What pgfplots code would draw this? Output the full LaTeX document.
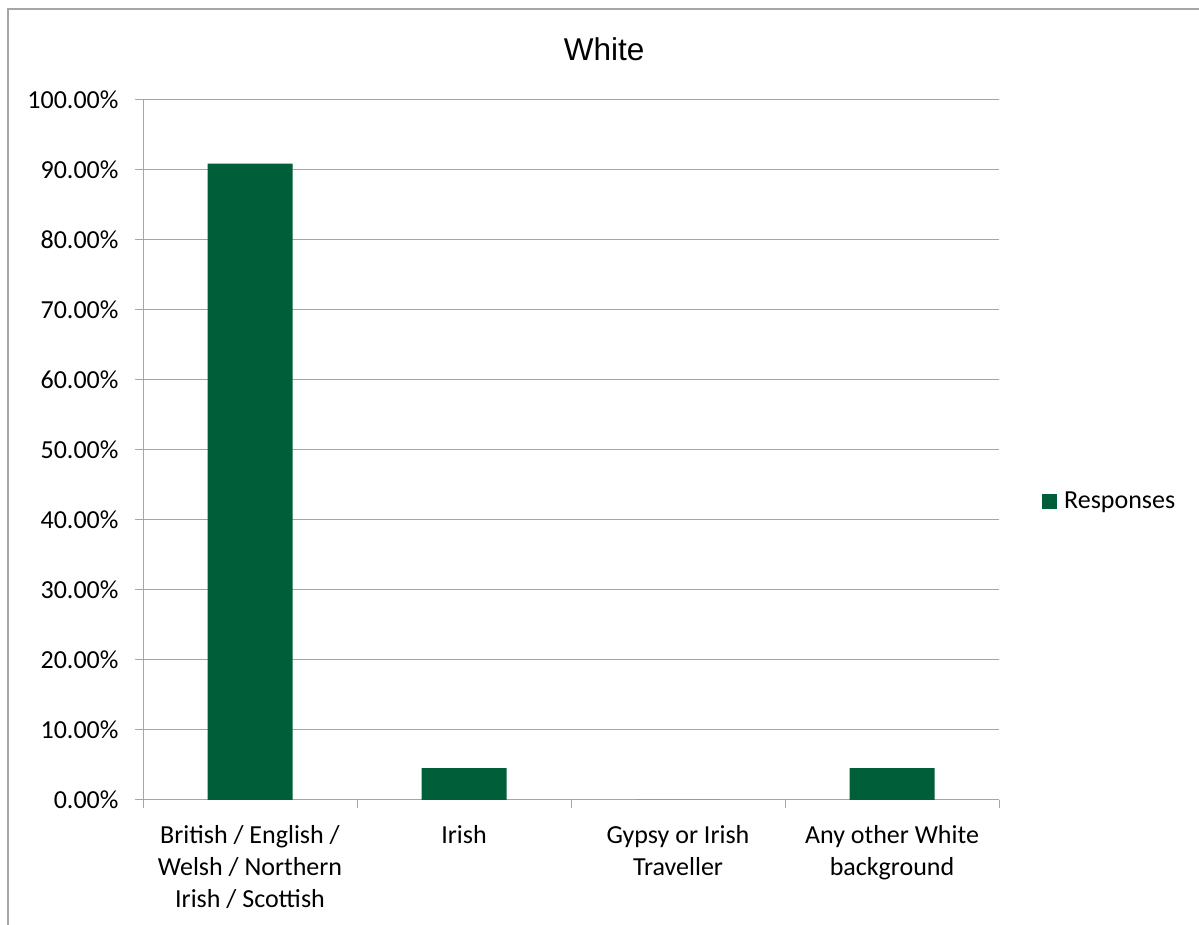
\documentclass[border=0pt]{standalone}
\usepackage{fontspec}
\setmainfont{Carlito}
\newfontfamily\titlefont{Liberation Sans}
\usepackage{pgfplots}
\pgfplotsset{compat=1.18}
\definecolor{bargreen}{RGB}{0,94,56}
\definecolor{axisgray}{RGB}{166,166,166}
\begin{document}
\begin{tikzpicture}
\useasboundingbox (0pt,0pt) rectangle (1199pt,925pt);
\draw[axisgray, line width=1.3pt] (8pt,0pt) -- (8pt,916pt) -- (1199pt,916pt);
\begin{axis}[
  at={(143pt,125pt)}, anchor=south west,
  scale only axis, width=856pt, height=700pt,
  xmin=-0.5, xmax=3.5, ymin=0, ymax=1,
  axis x line*=bottom, axis y line*=left,
  axis line style={axisgray, line width=1pt, -},
  tick align=outside, major tick length=8pt,
  tick style={axisgray, line width=1pt},
  ymajorgrids, grid style={axisgray, line width=1pt},
  ytick={0,0.1,0.2,0.3,0.4,0.5,0.6,0.7,0.8,0.9,1},
  yticklabels={0.00\%,10.00\%,20.00\%,30.00\%,40.00\%,50.00\%,60.00\%,70.00\%,80.00\%,90.00\%,100.00\%},
  y tick label style={xshift=-13pt},
  xtick={-0.5,0.5,1.5,2.5,3.5},
  xticklabels={,,,,},
  extra x ticks={0,1,2,3},
  extra x tick labels={{British / English /\\Welsh / Northern\\Irish / Scottish},{Irish},{Gypsy or Irish\\Traveller},{Any other White\\background}},
  extra x tick style={major tick length=0pt, grid=none},
  tick label style={font=\fontsize{26}{32}\selectfont, text=black},
  x tick label style={align=center, yshift=-22pt},
  title={White},
  title style={font=\titlefont\fontsize{31.5}{36}\selectfont, at={(0.5386,1)}, anchor=base, yshift=33pt},
  legend style={draw=none, fill=none, at={(1.0502,0.427)}, anchor=west, inner sep=0pt,
    font=\fontsize{26}{32}\selectfont},
  ybar, bar width=85pt, bar shift=0pt,
]
\addplot[fill=bargreen, draw=none,
  legend image code/.code={\fill[bargreen] (0pt,-7.5pt) rectangle (15pt,7.5pt); \path (20pt,0pt);}]
  coordinates {(0,0.9091) (1,0.0455) (2,0) (3,0.0455)};
\addlegendentry{Responses}
\end{axis}
\end{tikzpicture}
\end{document}
